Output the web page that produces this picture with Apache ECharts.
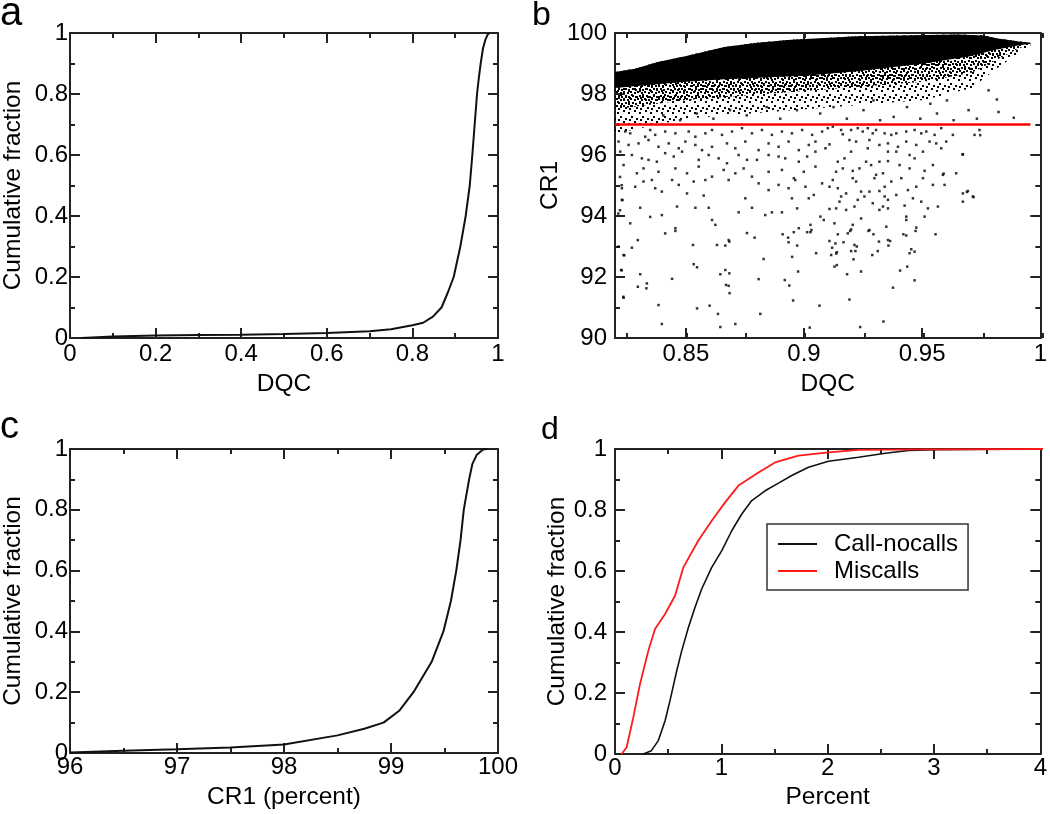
<!DOCTYPE html>
<html><head><meta charset="utf-8">
<script src="https://cdn.jsdelivr.net/npm/echarts@6/dist/echarts.min.js"></script>
<style>html,body{margin:0;padding:0;background:#fff}#wrap{position:relative;width:1050px;height:814px}
#axes,#marks{position:absolute;left:0;top:0;width:1050px;height:814px}</style>
</head><body><div id="wrap"><div id="axes"></div><div id="marks"></div></div>
<script>
// ---------- Panel a: cumulative fraction vs DQC ----------
var aDqc  = [0.027, 0.1, 0.2, 0.3, 0.4, 0.5, 0.6, 0.7, 0.75, 0.8, 0.825, 0.848, 0.868, 0.883, 0.8965, 0.912, 0.9245, 0.934, 0.940, 0.9455, 0.951, 0.955, 0.9595, 0.965, 0.971, 0.976, 0.98];
var aFrac = [0, 0.005, 0.008, 0.010, 0.011, 0.013, 0.016, 0.022, 0.029, 0.042, 0.05, 0.07, 0.1, 0.15, 0.2, 0.3, 0.4, 0.5, 0.6, 0.7, 0.8, 0.85, 0.9, 0.95, 0.98, 0.995, 1.0];

// ---------- Panel b: CR1 vs DQC scatter ----------
var bThreshold = 97;
var bThresholdRange = [0.82, 0.9947];
var bCloudTop = [[0.82,98.72],[0.8284,98.83],[0.838,99.05],[0.85,99.25],[0.866,99.54],[0.88,99.68],[0.894,99.78],[0.922,99.89],[0.945,99.93],[0.9645,99.95],[0.975,99.92],[0.981,99.82],[0.99,99.72],[0.9947,99.68]];
var bCoreLow = [[0.82,98.2],[0.835,98.3],[0.85,98.4],[0.866,98.48],[0.9,98.6],[0.922,98.75],[0.95,99.0],[0.97,99.25],[0.98,99.45],[0.99,99.6],[0.9947,99.65]];
var bDenseLow = [[0.82,97.5],[0.85,97.8],[0.9,98.1],[0.95,98.4],[0.97,98.7],[0.98,99.1],[0.99,99.5],[0.9947,99.62]];
var bThinLow = [[0.82,96.7],[0.835,96.95],[0.85,97.2],[0.9,97.5],[0.95,97.8],[0.97,98.2],[0.98,98.8],[0.99,99.35],[0.9947,99.58]];
var bSparse = [
[0.8243,96.77],[0.8264,96.71],[0.8327,96.60],[0.8348,96.82],[0.8369,96.66],[0.8411,96.77],[0.8454,96.71],[0.8510,96.77],[0.8538,96.60],[0.8580,96.71],[0.8608,96.82],[0.8650,96.66],[0.8692,96.77],[0.8734,96.88],[0.8776,96.71],[0.8818,96.82],[0.8860,96.66],[0.8902,96.77],[0.8944,96.71],[0.8987,96.82],[0.9029,96.66],[0.9071,96.77],
[0.8215,96.44],[0.8257,96.33],[0.8299,96.38],[0.8341,96.49],[0.8383,96.27],[0.8426,96.38],[0.8468,96.22],[0.8496,96.44],[0.8538,96.33],[0.8566,96.16],[0.8608,96.27],[0.8671,96.38],[0.8706,96.22],[0.8748,96.44],[0.8804,96.16],[0.8846,96.38],[0.8888,96.27],[0.8930,96.44],[0.8973,96.16],[0.9015,96.33],[0.9043,96.44],[0.9085,96.22],
[0.8222,96.11],[0.8271,96.00],[0.8313,95.89],[0.8341,95.84],[0.8376,95.78],[0.8411,96.06],[0.8447,95.95],[0.8482,96.11],[0.8552,95.84],[0.8594,96.00],[0.8636,95.89],[0.8671,95.73],[0.8720,96.00],[0.8755,95.84],[0.8797,95.84],[0.8846,96.00],[0.8888,95.95],[0.8916,95.89],[0.8973,95.78],[0.9008,95.95],[0.9043,96.11],
[0.8236,95.67],[0.8292,95.40],[0.8320,95.56],[0.8383,95.45],[0.8454,95.56],[0.8503,95.40],[0.8552,95.62],[0.8608,95.29],[0.8657,95.51],[0.8706,95.40],[0.8741,95.56],[0.8776,95.29],[0.8846,95.45],[0.8902,95.51],[0.8952,95.24],[0.8994,95.45],[0.9043,95.62],
[0.8229,94.91],[0.8285,94.96],[0.8320,95.13],[0.8355,95.18],[0.8369,94.91],[0.8440,95.18],[0.8468,95.02],[0.8531,95.13],[0.8580,95.18],[0.8678,95.18],[0.8804,95.07],[0.8846,94.85],[0.8888,95.02],[0.8930,94.91],[0.8958,95.18],[0.9001,94.96],[0.9071,95.07],
[0.8229,94.53],[0.8306,94.27],[0.8397,94.80],[0.8461,94.31],[0.8503,94.74],[0.8538,94.27],[0.8573,94.67],[0.8594,94.27],[0.8748,94.58],[0.8776,94.27],[0.8860,94.12],[0.8902,94.12],[0.8944,94.58],[0.8966,94.25],[0.9015,94.58],[0.9036,94.69],
[0.8264,93.76],[0.8348,93.97],[0.8397,94.03],[0.8454,93.60],[0.8608,93.87],[0.8622,93.71],[0.8720,94.12],[0.8832,94.03],[0.8973,93.60],[0.9022,93.71],[0.9064,93.98],[0.9078,93.87],
[0.9095,96.88],[0.9116,96.93],[0.9151,96.82],[0.9158,96.68],[0.9193,96.82],[0.9221,96.88],[0.9242,96.77],[0.9263,96.88],[0.9284,96.71],[0.9298,96.82],[0.9334,96.71],[0.9362,96.66],[0.9383,96.71],[0.9425,96.77],[0.9460,96.82],[0.9488,96.71],[0.9509,96.77],[0.9544,96.66],[0.9572,96.88],[0.9621,96.66],[0.9733,96.82],[0.9712,96.66],
[0.9102,96.35],[0.9186,96.49],[0.9214,96.44],[0.9270,96.49],[0.9312,96.33],[0.9348,96.38],[0.9390,96.27],[0.9425,96.44],[0.9467,96.33],[0.9495,96.11],[0.9523,96.44],[0.9551,96.38],[0.9572,96.22],[0.9593,96.44],[0.9663,96.02],[0.9193,96.11],[0.9263,96.22],[0.9348,96.11],[0.9383,96.11],[0.9439,96.00],
[0.9137,95.78],[0.9165,95.89],[0.9200,95.48],[0.9228,95.56],[0.9256,95.78],[0.9277,95.67],[0.9312,95.78],[0.9348,95.80],[0.9397,95.67],[0.9439,95.56],[0.9460,95.89],[0.9502,95.48],[0.9537,95.67],[0.9298,95.35],[0.9327,95.40],[0.9158,95.56],[0.9130,95.45],
[0.9116,95.18],[0.9102,94.96],[0.9137,94.91],[0.9200,95.24],[0.9214,95.13],[0.9291,95.24],[0.9334,94.96],[0.9362,95.13],[0.9404,95.24],[0.9432,94.85],[0.9467,94.96],[0.9495,95.24],[0.9537,95.02],[0.9579,95.35],[0.9586,95.02],[0.9635,95.40],[0.9663,94.74],[0.9684,94.82],[0.9172,94.74],[0.9235,94.80],[0.9270,94.80],[0.9312,94.82],
[0.9151,94.64],[0.9144,94.47],[0.9221,94.53],[0.9249,94.64],[0.9284,94.42],[0.9334,94.64],[0.9348,94.53],[0.9383,94.69],[0.9453,94.58],[0.9488,94.47],[0.9516,94.25],[0.9558,94.31],[0.9663,94.47],[0.9705,94.64],[0.9102,94.23],[0.9130,94.25],[0.9172,94.20],[0.9207,94.31],[0.9312,94.20],[0.9327,94.31],[0.9348,94.25],[0.9418,94.34],
[0.9123,93.76],[0.9200,93.71],[0.9235,93.92],[0.9341,93.65],[0.9425,93.98],[0.9425,93.87],[0.9467,93.62],[0.9502,93.98],[0.9270,93.54],
[0.8411,93.43],[0.8454,93.51],[0.8296,93.21],[0.8271,92.96],[0.8215,93.00],[0.8236,92.72],[0.8226,92.23],[0.8306,92.09],[0.8296,91.68],[0.8334,91.79],[0.8332,91.63],[0.8440,91.94],[0.8236,91.32],[0.8383,91.08],[0.8397,90.46],[0.8528,93.05],[0.8531,92.42],[0.8545,92.32],[0.8545,90.97],[0.8598,91.06],[0.8629,93.05],[0.8664,93.03],[0.8678,93.21],[0.8681,93.16],[0.8755,93.44],[0.8787,93.29],[0.8664,92.23],[0.8643,92.09],[0.8681,92.12],[0.8667,91.74],[0.8678,91.71],[0.8682,91.47],[0.8633,90.79],[0.8643,90.36],[0.8706,90.46],[0.8825,92.59],[0.8804,91.93],[0.8811,90.79],[0.8905,93.40],[0.8928,93.29],[0.8930,93.14],[0.8952,93.47],[0.8966,93.03],[0.8945,92.66],[0.8970,92.18],[0.8914,91.90],[0.8933,91.72],[0.8949,91.23],[0.9008,93.47],[0.9022,93.47],[0.9026,93.54],[0.9046,92.78],[0.9060,91.06],[0.9019,90.34],
[0.9102,93.18],[0.9127,93.10],[0.9113,92.96],[0.9109,92.72],[0.9133,92.81],[0.9130,92.77],[0.9137,93.40],[0.9179,93.43],[0.9189,93.51],[0.9193,93.56],[0.9161,93.14],[0.9193,92.85],[0.9211,92.85],[0.9207,93.05],[0.9217,93.00],[0.9203,92.58],[0.9123,92.34],[0.9133,92.39],[0.9176,92.09],[0.9235,92.18],[0.9266,93.51],[0.9287,93.40],[0.9310,93.16],[0.9282,92.72],[0.9305,92.85],[0.9348,93.21],[0.9357,93.18],[0.9350,93.03],[0.9413,93.40],[0.9425,93.36],[0.9464,93.51],[0.9439,92.78],[0.9446,92.91],[0.9460,92.83],[0.9399,92.21],[0.9429,92.34],[0.9460,91.89],[0.9369,91.65],[0.9548,93.40],[0.9186,91.26],[0.9329,90.54],[0.9231,90.36],
[0.9806,97.82],[0.9877,97.22],[0.9813,97.41],[0.9736,96.65],[0.9662,96.02],[0.9582,95.39],[0.9680,94.79],[0.9708,94.62],[0.9771,98.12],[0.9722,97.19],[0.9687,97.47],[0.9624,97.14],[0.9554,97.36],[0.9484,97.19],[0.9428,97.57],[0.9372,97.25],[0.9596,97.79],[0.9526,97.68],
[0.9063,97.36],[0.9119,97.57],[0.9175,97.19],[0.9245,97.47],[0.9287,97.79],[0.9315,97.14],[0.8965,97.47],[0.8895,97.19],[0.8838,97.57],[0.8754,97.30],[0.8684,97.47],[0.8614,97.19],[0.8544,97.36],[0.8474,97.14],[0.8403,97.30],
[0.8221,95.28],[0.8228,95.01],[0.8221,94.19],[0.8214,94.08],[0.8231,94.52],[0.8239,92.71],[0.8228,92.22],[0.8235,91.35]
];
var bXMajorStep = 0.05;
var bXMinorStep = 0.025;

// ---------- Panel c: cumulative fraction vs CR1 ----------
var cCr1  = [96.0, 96.5, 97.0, 97.5, 98.0, 98.5, 98.75, 98.93, 99.08, 99.21, 99.38, 99.49, 99.56, 99.61, 99.65, 99.68, 99.73, 99.76, 99.80, 99.86, 99.9];
var cFrac = [0.002, 0.007, 0.012, 0.018, 0.028, 0.058, 0.08, 0.1, 0.14, 0.2, 0.3, 0.4, 0.5, 0.6, 0.7, 0.8, 0.9, 0.95, 0.98, 0.998, 1.0];

// ---------- Panel d: cumulative fraction vs percent ----------
var dCallX = [0.265, 0.34, 0.405, 0.468, 0.514, 0.577, 0.624, 0.686, 0.748, 0.81, 0.904, 0.998, 1.091, 1.185, 1.278, 1.403, 1.528, 1.652, 1.808, 1.995, 2.276, 2.525, 2.744, 2.993, 4.0];
var dCallY = [0, 0.011, 0.044, 0.109, 0.175, 0.273, 0.339, 0.415, 0.481, 0.541, 0.612, 0.667, 0.732, 0.787, 0.831, 0.863, 0.888, 0.913, 0.94, 0.96, 0.973, 0.986, 0.995, 0.998, 1.0];
var dMisX  = [0.062, 0.109, 0.171, 0.234, 0.312, 0.374, 0.468, 0.561, 0.639, 0.779, 0.904, 1.029, 1.154, 1.341, 1.496, 1.715, 1.995, 2.276, 2.9, 4.0];
var dMisY  = [0, 0.022, 0.12, 0.23, 0.339, 0.41, 0.459, 0.519, 0.612, 0.70, 0.765, 0.825, 0.88, 0.923, 0.956, 0.978, 0.989, 0.997, 0.999, 1.0];
var legendNames = ['Call-nocalls', 'Miscalls'];

// ================= rendering =================
var FONT = '"Liberation Sans", Arial, Helvetica, sans-serif';
var INK = '#222';
function zip(a, b) { return a.map(function (v, i) { return [v, b[i]]; }); }

function tile(size, dots) {
  var cv = document.createElement('canvas');
  cv.width = size; cv.height = size;
  var ctx = cv.getContext('2d');
  ctx.fillStyle = '#000';
  dots.forEach(function (d) { ctx.fillRect(d[0], d[1], 2, 2); });
  return cv;
}
var thinPat = { image: tile(11, [[1,2],[7,0],[4,6],[9,8],[2,9]]), repeat: 'repeat' };
var densePat = { image: tile(7, [[0,0],[4,1],[2,4],[5,5]]), repeat: 'repeat' };

var grids = [
  { left: 70, top: 33, width: 428, height: 305 },
  { left: 615, top: 33, width: 428, height: 305 },
  { left: 70, top: 449, width: 428, height: 304 },
  { left: 615, top: 449, width: 428, height: 305 }
];

function baseAxis(grid, pos, min, max, interval, o) {
  o = o || {};
  var ax = {
    type: 'value', gridIndex: grid, position: pos, min: min, max: max,
    splitLine: { show: false },
    axisLine: { show: o.line !== false, onZero: false, lineStyle: { color: INK, width: 2 } },
    axisTick: { show: true, inside: true, length: o.tickLen || 10, lineStyle: { color: INK, width: 2 } },
    axisLabel: { show: !!o.label, margin: o.margin == null ? 4 : o.margin, fontSize: 24, color: '#000', fontFamily: FONT }
  };
  if (interval != null) ax.interval = interval;
  if (o.minor !== false) ax.minorTick = { show: true, splitNumber: 2, length: 5, lineStyle: { color: INK, width: 2 } };
  if (o.hideMin) ax.axisLabel.showMinLabel = false;
  if (o.name) { ax.name = o.name; ax.nameLocation = 'middle'; ax.nameGap = o.nameGap; ax.nameTextStyle = { fontSize: 24.5, color: '#000', fontFamily: FONT }; }
  if (o.step != null) { ax.minInterval = o.step; ax.maxInterval = o.step; }
  return ax;
}

// frame axes: exactly one bottom, top, left, right axis per panel
var xAxes = [
  baseAxis(0, 'bottom', 0, 1, 0.2, { label: true, margin: 4, name: 'DQC', nameGap: 34 }),
  baseAxis(0, 'top', 0, 1, 0.2, {}),
  baseAxis(1, 'bottom', 0.82, 1, null, { label: true, margin: 4, name: 'DQC', nameGap: 34, minor: false, step: bXMajorStep, hideMin: true }),
  baseAxis(1, 'top', 0.82, 1, null, { minor: false, step: bXMajorStep }),
  baseAxis(2, 'bottom', 96, 100, 1, { label: true, margin: 2, name: 'CR1 (percent)', nameGap: 32 }),
  baseAxis(2, 'top', 96, 100, 1, {}),
  baseAxis(3, 'bottom', 0, 4, 1, { label: true, margin: 2, name: 'Percent', nameGap: 31 }),
  baseAxis(3, 'top', 0, 4, 1, {})
];
var yAxes = [
  baseAxis(0, 'left', 0, 1, 0.2, { label: true, margin: 2, name: 'Cumulative fraction', nameGap: 44 }),
  baseAxis(0, 'right', 0, 1, 0.2, {}),
  baseAxis(1, 'left', 90, 100, 2, { label: true, margin: 8, name: 'CR1', nameGap: 39 }),
  baseAxis(1, 'right', 90, 100, 2, {}),
  baseAxis(2, 'left', 0, 1, 0.2, { label: true, margin: 2, name: 'Cumulative fraction', nameGap: 44 }),
  baseAxis(2, 'right', 0, 1, 0.2, {}),
  baseAxis(3, 'left', 0, 1, 0.2, { label: true, margin: 8, name: 'Cumulative fraction', nameGap: 44 }),
  baseAxis(3, 'right', 0, 1, 0.2, {})
];

// marks layer: same scales with nothing drawn, except panel b's minor x ticks
function silentAxis(a) {
  var b = { type: 'value', gridIndex: a.gridIndex, position: a.position, min: a.min, max: a.max,
    axisLine: { show: false, onZero: false }, axisTick: { show: false }, axisLabel: { show: false }, splitLine: { show: false } };
  if (a.interval != null) b.interval = a.interval;
  if (a.minInterval != null) { b.minInterval = a.minInterval; b.maxInterval = a.maxInterval; }
  return b;
}
var markX = [
  silentAxis(xAxes[0]),
  silentAxis(xAxes[2]),
  silentAxis(xAxes[4]),
  silentAxis(xAxes[6]),
  baseAxis(1, 'top', 0.82, 1, null, { line: false, minor: false, tickLen: 5, step: bXMinorStep })
];
var markY = [silentAxis(yAxes[0]), silentAxis(yAxes[2]), silentAxis(yAxes[4]), silentAxis(yAxes[6])];
// bottom minor ticks of panel b live on the axes layer? no: use the marks layer's panel-b axis
markX[1] = baseAxis(1, 'bottom', 0.82, 1, null, { line: false, minor: false, tickLen: 5, step: bXMinorStep });

function polySeries(top, low, fill, xi, yi) {
  return {
    type: 'custom', xAxisIndex: xi, yAxisIndex: yi, silent: true, clip: true,
    data: [[top[0][0], top[0][1]]],
    renderItem: function (params, api) {
      var pts = top.concat(low.slice().reverse()).map(function (p) { return api.coord(p); });
      return { type: 'polygon', shape: { points: pts }, style: { fill: fill } };
    }
  };
}

var series = [
  { type: 'line', name: 'a', xAxisIndex: 0, yAxisIndex: 0, data: zip(aDqc, aFrac), symbol: 'none',
    lineStyle: { color: '#111', width: 2 }, silent: true },
  polySeries(bCloudTop, bThinLow, thinPat, 1, 1),
  polySeries(bCloudTop, bDenseLow, densePat, 1, 1),
  polySeries(bCloudTop, bCoreLow, '#000', 1, 1),
  { type: 'scatter', name: 'b', xAxisIndex: 1, yAxisIndex: 1, data: bSparse, symbol: 'rect', symbolSize: 2.5,
    itemStyle: { color: '#000' }, silent: true },
  { type: 'line', name: 'thr', xAxisIndex: 1, yAxisIndex: 1, data: [[bThresholdRange[0], bThreshold], [bThresholdRange[1], bThreshold]],
    symbol: 'none', lineStyle: { color: '#ff0000', width: 2.5 }, silent: true },
  { type: 'line', name: 'c', xAxisIndex: 2, yAxisIndex: 2, data: zip(cCr1, cFrac), symbol: 'none',
    lineStyle: { color: '#111', width: 2 }, silent: true },
  { type: 'line', name: legendNames[0], xAxisIndex: 3, yAxisIndex: 3, data: zip(dCallX, dCallY), symbol: 'none',
    itemStyle: { color: '#111' }, lineStyle: { color: '#111', width: 1.6 }, silent: true },
  { type: 'line', name: legendNames[1], xAxisIndex: 3, yAxisIndex: 3, data: zip(dMisX, dMisY), symbol: 'none',
    itemStyle: { color: '#ff1a1a' }, lineStyle: { color: '#ff1a1a', width: 1.8 }, silent: true }
];

// layer 1: frames, ticks, labels, panel letters
var axesChart = echarts.init(document.getElementById('axes'));
axesChart.setOption({
  animation: false,
  grid: grids,
  xAxis: xAxes,
  yAxis: yAxes,
  graphic: [
    { type: 'text', x: 0, y: 14, style: { text: 'a', fontSize: 40, fontFamily: FONT, fill: '#000', verticalAlign: 'middle' } },
    { type: 'text', x: 532, y: 16, style: { text: 'b', fontSize: 34, fontFamily: FONT, fill: '#000', verticalAlign: 'middle' } },
    { type: 'text', x: 0, y: 428, style: { text: 'c', fontSize: 38, fontFamily: FONT, fill: '#000', verticalAlign: 'middle' } },
    { type: 'text', x: 541, y: 430, style: { text: 'd', fontSize: 32, fontFamily: FONT, fill: '#000', verticalAlign: 'middle' } }
  ],
  series: []
});

// layer 2: data marks and legend, on the same scales
var marksChart = echarts.init(document.getElementById('marks'));
marksChart.setOption({
  animation: false,
  backgroundColor: 'transparent',
  grid: grids,
  xAxis: markX,
  yAxis: markY,
  legend: {
    data: legendNames, orient: 'vertical', left: 767, top: 524,
    icon: 'rect', itemWidth: 39, itemHeight: 2, itemGap: 3,
    padding: [8, 10, 7, 11], borderColor: '#333', borderWidth: 1.5, backgroundColor: '#fff',
    textStyle: { fontSize: 24, color: '#000', fontFamily: FONT, padding: [0, 0, 0, 12] },
    selectedMode: false
  },
  series: series
});
</script></body></html>
